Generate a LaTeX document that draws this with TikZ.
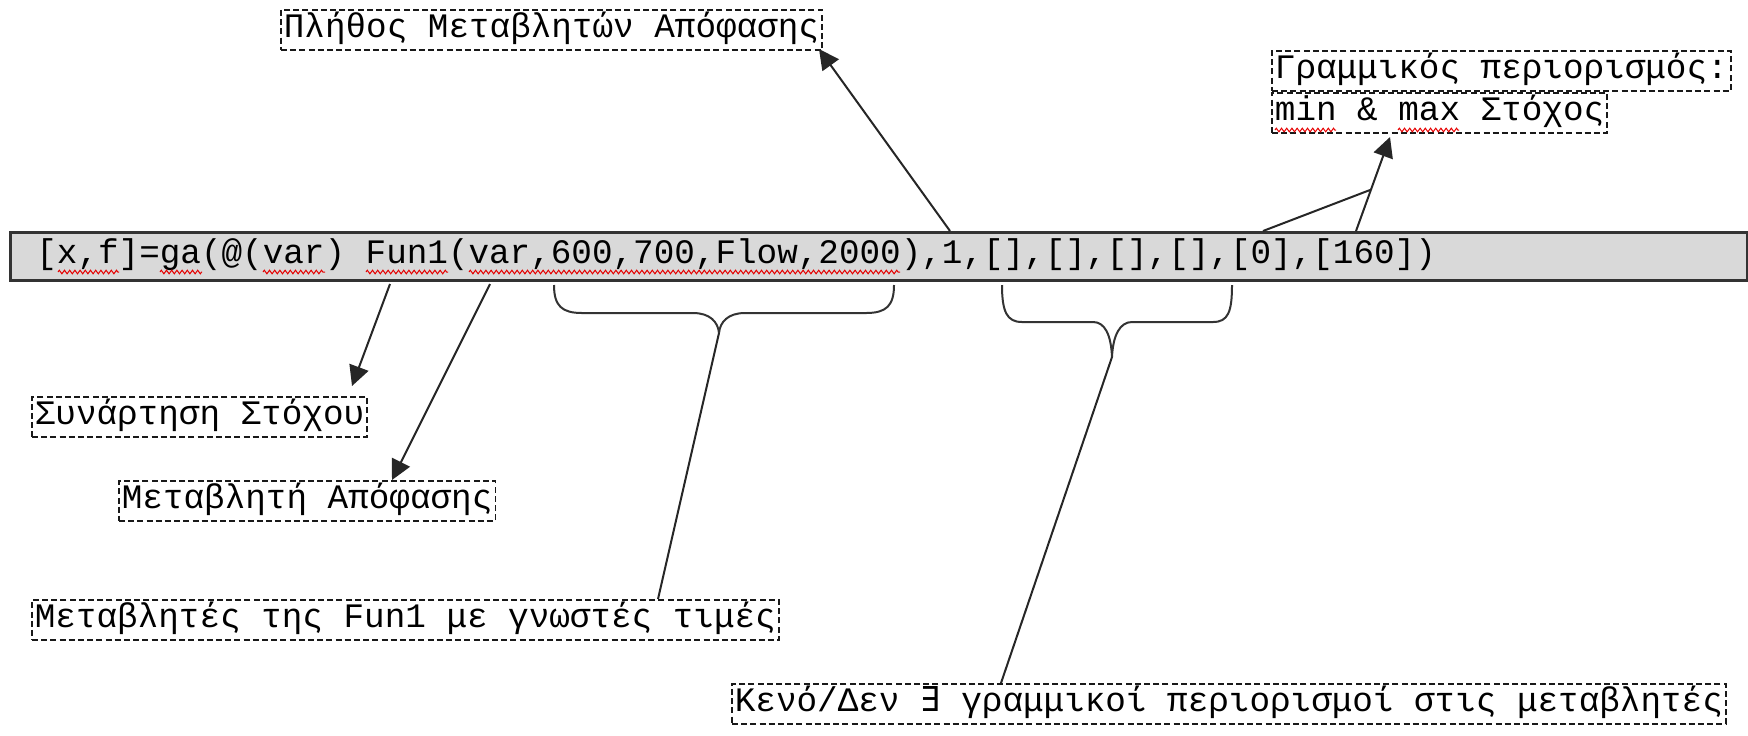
\documentclass[tikz,border=0pt]{standalone}
\usepackage{fontspec}
\newfontfamily\codefont{Liberation Mono}
\newfontfamily\exfont{DejaVu Sans Mono}
\usetikzlibrary{arrows.meta,decorations.pathmorphing}

\tikzset{
  lbl/.style={draw=black!90, dash pattern=on 3pt off 1.6pt, line width=0.9pt,
    font=\codefont\fontsize{17.15}{20}\selectfont, inner xsep=1.5pt, inner ysep=1.5pt,
    text height=12.5pt, text depth=4.5pt, anchor=north west},
  codetxt/.style={font=\codefont\fontsize{17.15}{20}\selectfont, inner sep=0pt,
    text height=12.5pt, text depth=4.5pt, anchor=west},
  bar/.style={draw=black!80, fill=black!15, line width=1.6pt, inner sep=0pt,
    minimum width=868.5pt, minimum height=24pt, anchor=north west},
  arr/.style={line width=1pt, draw=black!85, -{Triangle[length=10pt,width=10pt]}},
  ln/.style={line width=1pt, draw=black!85},
  brc/.style={line width=1pt, draw=black!80, line join=round},
  squig/.style={draw=red!90!black, line width=0.5pt, decorate,
    decoration={zigzag, amplitude=0.9pt, segment length=2.6pt}}
}

\begin{document}
\begin{tikzpicture}[x=0.5pt, y=-0.5pt]
\useasboundingbox (0,0) rectangle (1748,735);

% the command line
\node[bar] (bar) at (9,231) {};
\node[codetxt] (code) at (36,255) {[x,f]=ga(@(var) Fun1(var,600,700,Flow,2000),1,[],[],[],[],[0],[160])};

% spell-check underlines under the command
\draw[squig] (58,272) -- (119,272);
\draw[squig] (160,272) -- (202,272);
\draw[squig] (263,272) -- (325,272);
\draw[squig] (366,272) -- (448,272);
\draw[squig] (469,272) -- (900,272);

% labels
\node[lbl] (nvars) at (280,9) {Πλήθος Μεταβλητών Απόφασης};
\node[lbl] (lin) at (1271,50) {Γραμμικός περιορισμός:};
\node[lbl, anchor=north west] (goal) at (lin.south west) {min \& max Στόχος};
\node[lbl] (obj) at (31,396) {Συνάρτηση Στόχου};
\node[lbl] (dvar) at (118,480) {Μεταβλητή Απόφασης};
\node[lbl] (known) at (31,599) {Μεταβλητές της Fun1 με γνωστές τιμές};
\node[lbl] (empty) at (731,683) {Κενό/Δεν {\exfont ∃} γραμμικοί περιορισμοί στις μεταβλητές};

\draw[squig] (1275,130) -- (1336,130);
\draw[squig] (1398,130) -- (1459,130);

% anchor points on the command line and brace tips
\coordinate (pN) at (950,231);
\coordinate (pL1) at (1263,231);
\coordinate (pL2) at (1356,231);
\coordinate (jL) at (1370,190);
\coordinate (tN) at (819,49);
\coordinate (tL) at (1390,137);
\coordinate (pO) at (390,284);
\coordinate (tO) at (352,386);
\coordinate (pD) at (490,284);
\coordinate (tD) at (392,480);
\coordinate (b1) at (719,333);
\coordinate (b2) at (1112,357);
\coordinate (k1) at (658,599);
\coordinate (k2) at (1001,683);

% arrows
\draw[arr] (pN) -- (tN);
\draw[arr] (pL2) -- (tL);
\draw[ln] (pL1) -- (jL);
\draw[arr] (pO) -- (tO);
\draw[arr] (pD) -- (tD);

% braces
\draw[brc] (554,285) .. controls (554,306) and (562,313) .. (582,313) -- (693,313)
  .. controls (710,313) and (718,322) .. (b1)
  .. controls (720,322) and (728,313) .. (745,313) -- (866,313)
  .. controls (886,313) and (894,306) .. (894,285);
\draw[brc] (1002,285) .. controls (1002,312) and (1007,322) .. (1022,322) -- (1093,322)
  .. controls (1105,322) and (1111,335) .. (b2)
  .. controls (1113,335) and (1120,322) .. (1132,322) -- (1213,322)
  .. controls (1228,322) and (1232,312) .. (1232,285);

% brace leaders
\draw[ln] (b1) -- (k1);
\draw[ln] (b2) -- (k2);
\end{tikzpicture}
\end{document}
